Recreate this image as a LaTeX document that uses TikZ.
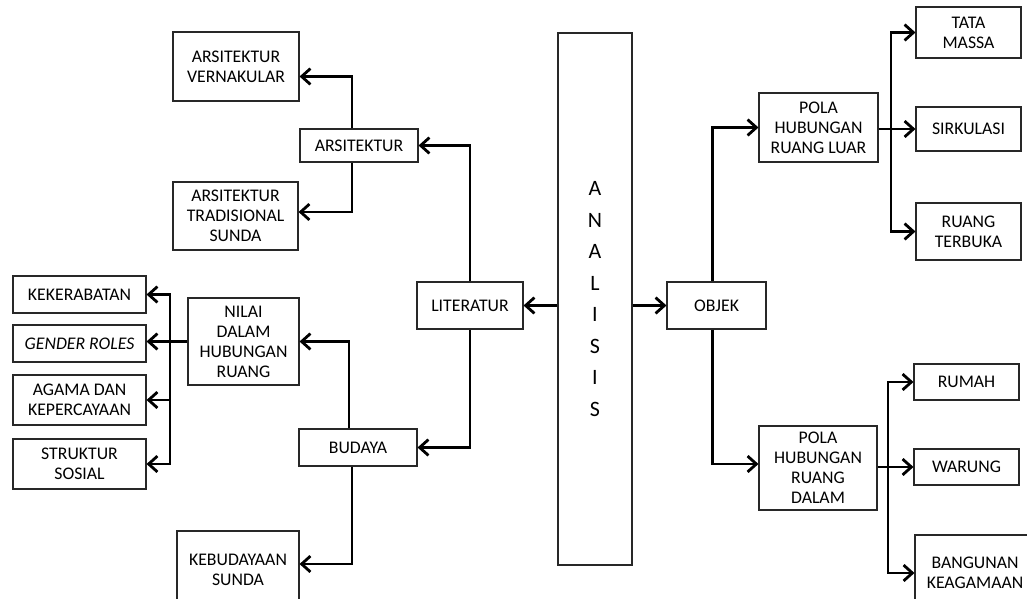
\documentclass[tikz,border=0pt]{standalone}
\usepackage{fontspec}
\setmainfont{Carlito}
\usepackage{tikz}
\usetikzlibrary{arrows.meta, positioning, calc, shadows}
\usepackage{xcolor}
\definecolor{garis}{RGB}{40,40,40}

\begin{document}
\begin{tikzpicture}[x=0.02cm, y=-0.02cm,
    kotak/.style 2 args={draw=garis, line width=0.6pt, fill=white, align=center,
      inner sep=0pt, minimum width=#1*0.02cm, minimum height=#2*0.02cm,
      font=\fontsize{10.1}{11.4}\selectfont,
      drop shadow={shadow xshift=0.8pt, shadow yshift=-0.8pt, opacity=0.15}},
    panah/.style={line width=1.6pt, -{Straight Barb[length=5pt, width=9pt]}}]
  \useasboundingbox (0,0) rectangle (1027,598);
  % pusat
  \node[kotak={74}{532}, font=\fontsize{12.5}{17.9}\selectfont] (analisis) at (595,299) {A\\N\\A\\L\\I\\S\\I\\S};
  \node[kotak={106}{47}] (literatur) at (470,305.5) {LITERATUR};
  \node[kotak={99}{47}] (objek) at (716.5,305.5) {OBJEK};
  % literatur
  \node[kotak={118}{33}] (arsi) at (359,145.5) {ARSITEKTUR};
  \node[kotak={126}{69}] (vern) at (236,66.5) {ARSITEKTUR\\VERNAKULAR};
  \node[kotak={125}{68}] (trad) at (235.5,216) {ARSITEKTUR\\TRADISIONAL\\SUNDA};
  \node[kotak={118}{37}] (budaya) at (358,447.5) {BUDAYA};
  \node[kotak={111}{87}] (nilai) at (243.5,341.5) {NILAI\\DALAM\\HUBUNGAN\\RUANG};
  \node[kotak={122}{78}] (kebud) at (238,570) {KEBUDAYAAN\\SUNDA};
  \node[kotak={133}{37}] (kekerabatan) at (79.5,294.5) {KEKERABATAN};
  \node[kotak={133}{37}] (gender) at (79.5,343.5) {\textit{GENDER ROLES}};
  \node[kotak={133}{50}] (agama) at (79.5,400) {AGAMA DAN\\KEPERCAYAAN};
  \node[kotak={133}{50}] (struktur) at (79.5,464) {STRUKTUR\\SOSIAL};
  % objek
  \node[kotak={119}{69}] (luar) at (818.5,127.5) {POLA\\HUBUNGAN\\RUANG LUAR};
  \node[kotak={105}{51}] (tata) at (968.5,32.5) {TATA\\MASSA};
  \node[kotak={105}{44}] (sirkulasi) at (968.5,129) {SIRKULASI};
  \node[kotak={105}{57}] (terbuka) at (968.5,231.5) {RUANG\\TERBUKA};
  \node[kotak={118}{84}] (dalam) at (818,468) {POLA\\HUBUNGAN\\RUANG\\DALAM};
  \node[kotak={105}{36}] (rumah) at (966.5,382) {RUMAH};
  \node[kotak={105}{36}] (warung) at (966.5,467) {WARUNG};
  \node[kotak={120}{76}] (bangunan) at (975,573) {BANGUNAN\\KEAGAMAAN};
  % titik cabang
  \coordinate (busL) at (170,341);
  \coordinate (busR) at (891,129);
  \coordinate (busD) at (888,467);

  \draw[panah] (analisis.west |- literatur) -- (literatur.east);
  \draw[panah] (analisis.east |- objek) -- (objek.west);
  \draw[panah] (literatur.north) |- (arsi.east);
  \draw[panah] (literatur.south) |- (budaya.east);
  \draw[panah] ($(arsi.north)+(-7,0)$) |- ($(vern.east)+(0,10)$);
  \draw[panah] ($(arsi.south)+(-7,0)$) |- ($(trad.east)+(0,-4)$);
  \draw[panah] ($(budaya.north)+(-9,0)$) |- (nilai.east);
  \draw[panah] ($(budaya.south)+(-6,0)$) |- ($(kebud.east)+(0,-6)$);
  \draw[panah] (nilai.west) -- (gender.east |- nilai.west);
  \foreach \t in {kekerabatan, agama, struktur}
    \draw[panah] (busL) |- (\t.east);
  \draw[panah] ($(objek.north)+(-4,0)$) |- (luar.west);
  \draw[panah] ($(objek.south)+(-4,0)$) |- ($(dalam.west)+(0,-4)$);
  \draw[panah] (luar.east |- sirkulasi.west) -- (sirkulasi.west);
  \foreach \t in {tata, terbuka}
    \draw[panah] (busR) |- (\t.west);
  \draw[panah] (dalam.east |- warung.west) -- (warung.west);
  \foreach \t in {rumah, bangunan}
    \draw[panah] (busD) |- (\t.west);
\end{tikzpicture}
\end{document}
